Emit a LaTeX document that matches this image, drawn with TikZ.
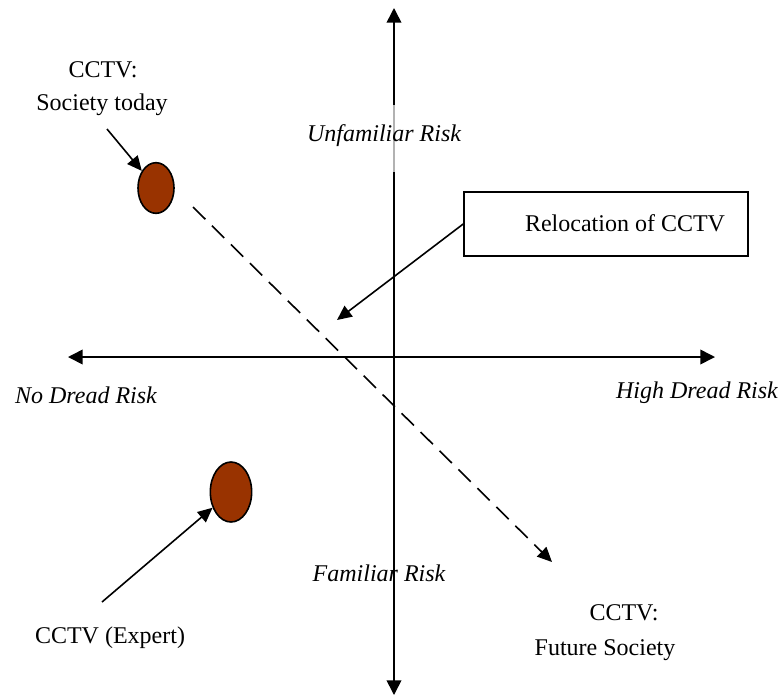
\documentclass[tikz,border=0pt]{standalone}
\usepackage{fontspec}
\setmainfont{Liberation Serif}
\usetikzlibrary{arrows.meta,shapes.geometric}
\definecolor{blob}{RGB}{153,51,0}
\begin{document}
\begin{tikzpicture}[x=0.75pt,y=-0.75pt,
  axis/.style={line width=1.2pt,{Triangle[length=11pt,width=11pt]}-{Triangle[length=11pt,width=11pt]}},
  pointer/.style={line width=1.2pt,-{Triangle[length=11pt,width=10pt]}},
  blobnode/.style={ellipse,draw=black,line width=1.2pt,fill=blob,inner sep=0pt},
  lbl/.style={font=\fontsize{18pt}{21pt}\selectfont,inner sep=1pt},
  axlbl/.style={lbl,font=\fontsize{18pt}{21pt}\selectfont\itshape}]
\useasboundingbox (0,0) rectangle (781,697);

% axes
\coordinate (top) at (394,8);
\coordinate (bot) at (394,695);
\coordinate (lft) at (68,357);
\coordinate (rgt) at (715,357);
\draw[axis] (bot) -- (top);
\draw[axis] (lft) -- (rgt);
\draw[gray!60,line width=1.2pt] (394,105) -- (394,172);

% axis labels
\node[axlbl] (unf) at (384,136) {Unfamiliar Risk};
\node[axlbl] (fam) at (379,573) {Familiar Risk};
\node[axlbl] (nod) at (86,395) {No Dread Risk};
\node[axlbl] (hid) at (697,393) {High Dread Risk};

% positions of CCTV
\node[blobnode,minimum width=27pt,minimum height=38pt] (today) at (156,188) {};
\node[blobnode,minimum width=31pt,minimum height=45pt] (expert) at (231,492) {};

\node[lbl] (cctv1) at (103,70) {CCTV:};
\node[lbl] (soc) at (102,105) {Society today};
\coordinate (s1) at (107,129);
\draw[pointer] (s1) -- (today);

\node[lbl] (exp) at (110,638) {CCTV (Expert)};
\coordinate (s2) at (102,602);
\draw[pointer] (s2) -- (expert);

\node[lbl] (cctv2) at (624,613) {CCTV:};
\node[lbl] (fut) at (605,650) {Future Society};

% relocation path
\coordinate (d0) at (193,207);
\coordinate (d1) at (552,562);
\draw[line width=1.2pt,dash pattern=on 13pt off 7pt,-{Triangle[length=11pt,width=10pt]}] (d0) -- (d1);

\node[draw,line width=1.2pt,minimum width=213pt,minimum height=48pt,inner sep=0pt] (box) at (606,224) {};
\node[lbl] (reltxt) at (625,223) {Relocation of CCTV};
\coordinate (rt) at (337,320);
\draw[pointer] (box.west) -- (rt);
\end{tikzpicture}
\end{document}
